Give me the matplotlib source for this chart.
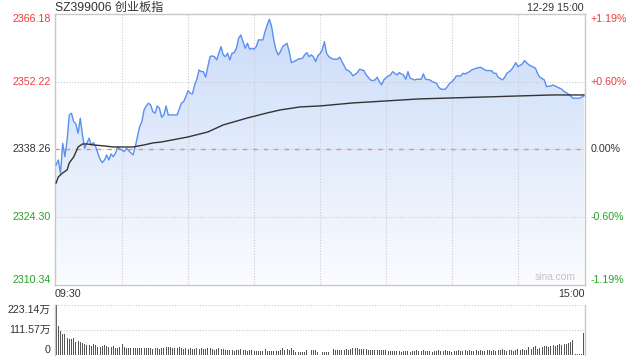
"""Intraday chart of SZ399006 (ChiNext index), 12-29, sina style."""

import matplotlib

matplotlib.use("Agg")
import matplotlib.pyplot as plt
import numpy as np
from matplotlib.colors import LinearSegmentedColormap

plt.rcParams["font.family"] = ["Liberation Sans", "Noto Sans CJK SC"]

TITLE = "SZ399006 创业板指"
STAMP = "12-29 15:00"
PREV_CLOSE = 2338.26

price_ticks = [2366.18, 2352.22, 2338.26, 2324.30, 2310.34]
pct_labels = ["+1.19%", "+0.60%", "0.00%", "-0.60%", "-1.19%"]
time_labels = ["09:30", "15:00"]
vol_ticks = [223.14, 111.57, 0]
vol_labels = ["223.14万", "111.57万", "0"]

# minute index since 09:30 (0..240, lunch break removed) and last price
price_minutes = [
    0, 1, 2, 3, 4, 5, 6, 7, 8, 9, 10, 11, 12, 13, 14, 15, 16, 17, 18, 19,
    20, 21, 22, 23, 24, 25, 26, 27, 28, 29, 30, 31, 32, 33, 35, 36, 37, 38,
    39, 40, 41, 42, 43, 44, 45, 46, 47, 48, 49, 50, 51, 52, 54, 55, 57, 58,
    59, 60, 61, 62, 63, 64, 65, 66, 67, 68, 69, 70, 71, 72, 73, 74, 75, 76,
    77, 78, 79, 80, 81, 82, 83, 84, 85, 86, 87, 88, 89, 90, 91, 92, 94, 95,
    96, 97, 98, 99, 100, 101, 102, 103, 105, 106, 107, 108, 109, 110, 112,
    113, 114, 115, 116, 117, 118, 119, 120,
    121, 122, 123, 124, 126, 128, 129, 130, 132, 133, 134, 135, 137, 138,
    140, 141, 143, 144, 145, 146, 147, 148, 149, 151, 152, 153, 155, 156,
    157, 158, 159, 160, 161, 163, 164, 166, 167, 168, 170, 171, 173, 174,
    175, 176, 177, 179, 180, 181, 182, 184, 185, 186, 188, 189, 191, 193,
    195, 196, 198, 199, 200, 201, 203, 204, 205, 207, 208, 209, 210, 212,
    213, 215, 216, 218, 219, 220, 222, 223, 225, 226, 228, 230, 231, 232,
    234, 235, 237, 238, 240,
]
prices = [
    2335.02, 2336.05, 2333.30, 2339.49, 2336.73, 2340.18, 2345.34, 2345.69,
    2343.96, 2343.48, 2341.56, 2344.66, 2341.21, 2338.47, 2339.49, 2340.53,
    2339.15, 2339.62, 2338.80, 2337.43, 2336.19, 2335.49, 2336.05, 2337.08,
    2336.05, 2337.29, 2336.73, 2337.43, 2338.80, 2338.26, 2338.12, 2337.76,
    2338.47, 2337.97, 2337.08, 2338.80, 2340.86, 2342.93, 2343.96, 2346.38,
    2347.20, 2347.76, 2347.41, 2346.02, 2345.69, 2347.20, 2346.73, 2344.87,
    2345.34, 2347.20, 2345.34, 2345.34, 2345.34, 2345.34, 2347.76, 2348.09,
    2349.12, 2350.36, 2349.82, 2349.68, 2351.54, 2352.71, 2354.64, 2354.28,
    2354.28, 2353.13, 2355.32, 2357.38, 2357.53, 2357.38, 2356.70, 2358.08,
    2359.45, 2357.73, 2357.38, 2358.08, 2356.70, 2358.08, 2358.21, 2359.12,
    2361.18, 2361.86, 2360.48, 2359.12, 2360.15, 2358.91, 2359.12, 2358.91,
    2359.45, 2360.83, 2360.83, 2362.54, 2363.93, 2365.10, 2363.58, 2360.83,
    2358.76, 2357.73, 2358.41, 2359.45, 2360.15, 2358.41, 2356.14, 2356.35,
    2356.56, 2356.84, 2357.05, 2357.73, 2358.21, 2357.38, 2357.73, 2357.38,
    2356.35, 2357.53, 2358.00,
    2358.76, 2360.48, 2358.08, 2357.38, 2356.84, 2356.84, 2357.26, 2356.35,
    2354.64, 2354.49, 2354.08, 2353.40, 2354.08, 2354.78, 2354.49, 2353.60,
    2352.57, 2352.43, 2352.57, 2353.13, 2352.22, 2351.54, 2352.57, 2353.40,
    2353.60, 2354.28, 2353.60, 2354.08, 2353.81, 2353.60, 2352.71, 2354.28,
    2352.92, 2352.57, 2352.71, 2352.71, 2353.81, 2352.71, 2352.57, 2352.22,
    2351.89, 2351.06, 2350.65, 2350.65, 2350.65, 2351.89, 2352.22, 2352.71,
    2353.40, 2353.40, 2353.95, 2353.81, 2354.28, 2354.64, 2354.99, 2355.19,
    2354.64, 2354.49, 2354.49, 2353.95, 2353.95, 2353.13, 2352.57, 2353.13,
    2353.95, 2354.64, 2355.32, 2356.14, 2355.32, 2355.87, 2356.56, 2355.67,
    2355.46, 2354.99, 2353.81, 2353.13, 2352.57, 2351.19, 2351.33, 2351.54,
    2351.06, 2350.65, 2350.16, 2349.95, 2349.27, 2348.79, 2348.79, 2348.79,
    2349.27,
]

# average price line
avg_minutes = [0, 1, 3, 5, 6, 8, 9, 10, 12, 14, 17, 22, 26, 31, 35, 40, 44,
               48, 60, 69, 76, 87, 96, 102, 111, 120, 135, 150, 165, 180,
               196, 211, 226, 240]
avg_prices = [2331.30, 2332.54, 2333.37, 2334.00, 2335.43, 2336.67, 2337.70,
              2338.73, 2339.35, 2339.35, 2339.15, 2338.94, 2338.73, 2338.73,
              2338.73, 2339.15, 2339.56, 2339.77, 2340.80, 2341.83, 2343.28,
              2344.72, 2345.76, 2346.38, 2347.00, 2347.20, 2347.82, 2348.23,
              2348.65, 2348.85, 2349.06, 2349.27, 2349.47, 2349.47]

# volume per minute, in 万
volumes = [
    223.14, 131, 107, 92, 92, 74, 70, 70, 74, 59,
    62, 57, 54, 48, 45, 45, 42, 48, 45, 37,
    37, 42, 45, 42, 37, 37, 42, 33, 33, 37,
    48, 37, 33, 33, 33, 33, 30, 33, 33, 30,
    33, 30, 30, 33, 28, 30, 33, 26, 30, 33,
    37, 37, 37, 33, 33, 30, 37, 30, 26, 30,
    26, 30, 28, 26, 30, 26, 30, 28, 26, 30,
    30, 26, 22, 26, 30, 28, 26, 22, 22, 22,
    22, 18, 22, 22, 26, 22, 22, 18, 22, 22,
    18, 18, 18, 18, 18, 27, 18, 18, 18, 18,
    18, 18, 22, 30, 22, 27, 22, 30, 22, 15,
    15, 15, 15, 15, 22, 22, 22, 22, 22, 15,
    45, 15, 15, 15, 15, 15, 27, 22, 22, 22,
    22, 22, 27, 22, 27, 30, 33, 30, 27, 27,
    27, 27, 22, 22, 22, 22, 22, 24, 24, 24,
    24, 18, 18, 18, 18, 18, 18, 15, 18, 18,
    18, 15, 18, 18, 22, 18, 18, 22, 18, 18,
    18, 15, 18, 18, 22, 18, 18, 22, 18, 18,
    15, 18, 18, 22, 18, 18, 22, 18, 22, 18,
    18, 22, 18, 22, 18, 18, 22, 22, 18, 22,
    18, 22, 22, 27, 22, 18, 22, 22, 18, 22,
    27, 22, 27, 22, 22, 37, 27, 37, 40, 27,
    33, 37, 40, 42, 37, 42, 45, 42, 45, 48,
    45, 48, 48, 52, 60, 67, 3, 3, 3, 3, 97,
]

RED = "#ee3b3b"
GREEN = "#27a127"
DARK = "#333333"
BORDER = "#c8c8c8"
GRID = "#cccccc"
LINE_BLUE = "#5b8ff0"
FS = 7.7


def style_box(ax):
    for side in ax.spines.values():
        side.set_color(BORDER)
        side.set_linewidth(1.0)
    ax.tick_params(length=0, labelleft=False, labelbottom=False)


def main() -> None:
    fig = plt.figure(figsize=(6.4, 3.6), dpi=100)
    ax = fig.add_axes([55 / 640, 1 - 284.5 / 360, 530 / 640, 270.5 / 360])
    ax_vol = fig.add_axes([55 / 640, 1 - 355 / 360, 530 / 640, 50 / 360])

    x_lo, x_hi = -0.5, 240.5
    y_lo, y_hi = price_ticks[-1], price_ticks[0]

    # gradient fill under the price line
    cmap = LinearSegmentedColormap.from_list("fill", ["#fafcff", "#cadbf8"])
    grad = np.linspace(0, 1, 256).reshape(-1, 1)
    poly = ax.fill_between(price_minutes, prices, y_lo, color="none", lw=0)
    im = ax.imshow(grad, extent=[x_lo, x_hi, y_lo, y_hi], origin="lower",
                   aspect="auto", cmap=cmap, zorder=0)
    im.set_clip_path(poly.get_paths()[0], transform=ax.transData)

    ax.plot(price_minutes, prices, color=LINE_BLUE, lw=1.0, zorder=3)
    ax.plot(avg_minutes, avg_prices, color=DARK, lw=1.0, zorder=3)

    ax.set_xlim(x_lo, x_hi)
    ax.set_ylim(y_lo, y_hi)
    ax.set_xticks([30, 60, 90, 120, 150, 180, 210])
    ax.set_yticks(price_ticks[1:-1])
    ax.grid(True, color=GRID, lw=0.8, ls=(0, (1, 1.5)))
    ax.axhline(PREV_CLOSE, color="#e4936c", lw=1.0, ls=(0, (3, 4.5)), zorder=2)
    style_box(ax)

    ytr = ax.get_yaxis_transform()
    n = len(price_ticks)
    for i, (p, pct) in enumerate(zip(price_ticks, pct_labels)):
        color = RED if p > PREV_CLOSE else (GREEN if p < PREV_CLOSE else DARK)
        va = "top" if i == 0 else ("bottom" if i == n - 1 else "center")
        ax.text(-0.008, p, f"{p:.2f}", transform=ytr, ha="right", va=va,
                color=color, fontsize=FS)
        ax.text(1.01, p, pct, transform=ytr, ha="left", va=va,
                color=color, fontsize=FS)

    ax.text(0.0, -0.015, time_labels[0], transform=ax.transAxes, ha="left",
            va="top", color=DARK, fontsize=FS)
    ax.text(1.0, -0.015, time_labels[1], transform=ax.transAxes, ha="right",
            va="top", color=DARK, fontsize=FS)
    ax.text(0.982, 0.008, "sina.com", transform=ax.transAxes, ha="right",
            va="bottom", color="#c4c4c4", fontsize=7.4)

    fig.text(55 / 640, 1 - 8 / 360, TITLE, ha="left", va="center",
             color=DARK, fontsize=8.7)
    fig.text(584 / 640, 1 - 8 / 360, STAMP, ha="right", va="center",
             color=DARK, fontsize=FS)

    # volume panel
    ax_vol.bar(range(len(volumes)), volumes, width=0.45, color="#555555",
               linewidth=0)
    ax_vol.set_xlim(x_lo, x_hi)
    ax_vol.set_ylim(0, vol_ticks[0])
    for v in vol_ticks[:2]:
        ax_vol.axhline(v, color=GRID, lw=0.8, ls=(0, (1, 1.5)), zorder=0)
    style_box(ax_vol)
    ax_vol.spines["top"].set_visible(False)
    ax_vol.spines["bottom"].set_visible(False)
    vtr = ax_vol.get_yaxis_transform()
    for i, (v, lab) in enumerate(zip(vol_ticks, vol_labels)):
        va = "top" if i == 0 else ("bottom" if i == len(vol_ticks) - 1 else "center")
        ax_vol.text(-0.008, v, lab, transform=vtr, ha="right", va=va,
                    color=DARK, fontsize=FS)

    fig.savefig("out.png", dpi=100)
    plt.close(fig)


if __name__ == "__main__":
    main()
